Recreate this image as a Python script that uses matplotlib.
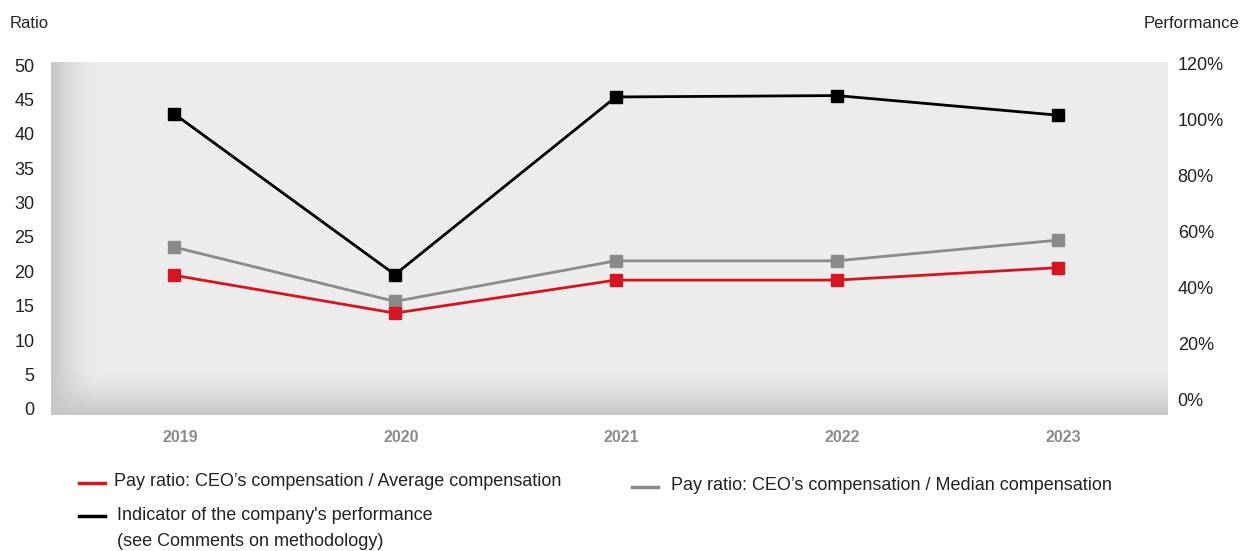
import numpy as np
import matplotlib.pyplot as plt
from matplotlib.lines import Line2D
from matplotlib.transforms import ScaledTranslation

plt.rcParams['font.family'] = ['Liberation Sans', 'DejaVu Sans']

years = ['2019', '2020', '2021', '2022', '2023']
ratio_average = [19.0, 13.5, 18.3, 18.3, 20.1]     # CEO / average compensation
ratio_median = [23.1, 15.2, 21.1, 21.1, 24.1]      # CEO / median compensation
performance = [101.5, 44, 107.5, 108, 101]         # company performance, %

RED = '#d7141f'
GREY = '#8a8a8a'
TXT = '#222222'

fig = plt.figure(figsize=(12.4, 5.51), dpi=100)
ax = fig.add_axes([51 / 1240, 1 - 415 / 551, 1117 / 1240, 353 / 551])
ax2 = ax.twinx()

# shaded panel: flat light grey with a soft darker rim on the left and bottom
h, w = 353, 1117
xx = np.arange(w)[None, :]
yy = np.arange(h)[:, None]
left = np.clip(1 - xx / 48.0, 0, 1) ** 1.6
bottom = np.clip(1 - (h - 1 - yy) / 48.0, 0, 1) ** 1.6
dark = 1 - (1 - left) * (1 - bottom)
shade = 0.928 - 0.15 * dark
ax.imshow(np.dstack([shade] * 3), extent=[0, 1, 0, 1], transform=ax.transAxes,
          aspect='auto', zorder=0, interpolation='bilinear')

x = np.arange(len(years))
ax.plot(x, ratio_median, color=GREY, lw=2.0, marker='s', ms=8, zorder=3)
ax.plot(x, ratio_average, color=RED, lw=2.0, marker='s', ms=8, zorder=3)
ax2.plot(x, performance, color='black', lw=2.0, marker='s', ms=8, zorder=3)

ax.set_xlim(-0.557, 4.5)
ax.set_ylim(-1.31, 50)
ax2.set_ylim(-6.2, 120)

ax.set_yticks(range(0, 51, 5))
ax.set_yticklabels([str(v) for v in range(0, 51, 5)])
ax2.set_yticks(range(0, 121, 20))
ax2.set_yticklabels([f'{v}%' for v in range(0, 121, 20)])

ax.set_xticks(x)
ax.set_xticklabels(years, fontsize=11.5, fontweight='bold', color='#8c8c8c')

ax.tick_params(axis='x', length=0, pad=11)
ax.tick_params(axis='y', length=0, pad=12, labelsize=13, labelcolor=TXT)
ax2.tick_params(axis='y', length=0, pad=7, labelsize=13, labelcolor=TXT)
for a in (ax, ax2):
    for s in a.spines.values():
        s.set_visible(False)


def shift(axis, dx, dy, right=False):
    off = ScaledTranslation(dx / 100, dy / 100, fig.dpi_scale_trans)
    for t in axis.get_major_ticks():
        lab = t.label2 if right else t.label1
        lab.set_transform(lab.get_transform() + off)


shift(ax.xaxis, 6, 0)
shift(ax.yaxis, 0, -3)
shift(ax2.yaxis, 0, -2, right=True)

fig.text(10 / 1240, 1 - 23 / 551, 'Ratio', fontsize=12, color=TXT, va='center', ha='left')
fig.text(1239 / 1240, 1 - 23 / 551, 'Performance', fontsize=12, color=TXT, va='center', ha='right')


# legend, drawn by hand
def legend_item(x0, y, color, lines, tx, ty):
    fig.add_artist(Line2D([x0 / 1240, (x0 + 26) / 1240], [1 - y / 551] * 2,
                          color=color, lw=2.5, transform=fig.transFigure))
    for i, line in enumerate(lines):
        fig.text(tx / 1240, 1 - (ty + 27 * i) / 551, line, fontsize=13,
                 color=TXT, va='center', ha='left')


legend_item(79, 483, RED, ['Pay ratio: CEO\u2019s compensation / Average compensation'], 114, 481)
legend_item(632, 487, GREY, ['Pay ratio: CEO\u2019s compensation / Median compensation'], 671, 485)
legend_item(79, 516, 'black', ["Indicator of the company's performance",
                               '(see Comments on methodology)'], 117, 515)

fig.savefig('out.png', dpi=100)
